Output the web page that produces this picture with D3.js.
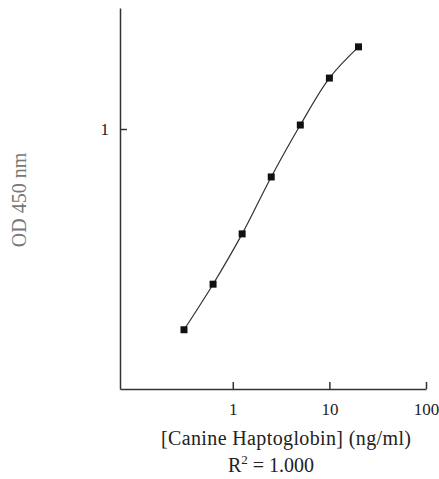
<!DOCTYPE html>
<html>
<head>
<meta charset="utf-8">
<script src="https://cdn.jsdelivr.net/npm/d3@7"></script>
<style>
  body { margin: 0; background: #fff; }
  svg text { font-family: "Liberation Serif", "DejaVu Serif", serif; fill: #222; }
</style>
</head>
<body>
<div id="chart"></div>
<script>
// standard curve points
var conc = [0.3125, 0.625, 1.25, 2.5, 5, 10, 20];
var od = [0.169, 0.253, 0.395, 0.654, 1.036, 1.57, 2.07];
var xTicks = [1, 10, 100];
var yTicks = [1];

var width = 439, height = 479;
var svg = d3.select("#chart").append("svg").attr("width", width).attr("height", height);

var x = d3.scaleLog().domain([0.068, 100]).range([120, 426]);
var y = d3.scaleLog().domain([0.1, 2.92]).range([389, 8]);

// axes, ticks point inward
var xAxis = d3.axisBottom(x).tickValues(xTicks).tickFormat(d3.format("d")).tickSizeInner(-7).tickSizeOuter(0).tickPadding(14);
var gx = svg.append("g").attr("transform", "translate(0,389)").call(xAxis);
gx.selectAll("text").style("font-size", "17px");

var yAxis = d3.axisLeft(y).tickValues(yTicks).tickFormat(d3.format("d")).tickSizeInner(-7).tickSizeOuter(0).tickPadding(11);
var gy = svg.append("g").attr("transform", "translate(120,0)").call(yAxis);
gy.selectAll("text").style("font-size", "17px");

svg.selectAll(".domain, .tick line").attr("stroke", "#333").attr("stroke-width", 1.5);

// fitted curve
var line = d3.line()
  .x(function(d, i) { return x(conc[i]); })
  .y(function(d, i) { return y(od[i]); })
  .curve(d3.curveCatmullRom.alpha(0.5));

svg.append("path").datum(od).attr("d", line)
  .attr("fill", "none").attr("stroke", "#333").attr("stroke-width", 1.2);

svg.selectAll(".pt").data(od).enter().append("rect")
  .attr("class", "pt")
  .attr("x", function(d, i) { return x(conc[i]) - 3.5; })
  .attr("y", function(d) { return y(d) - 3.5; })
  .attr("width", 7).attr("height", 7)
  .attr("fill", "#111");

// labels
svg.append("text").attr("x", 286).attr("y", 445).attr("text-anchor", "middle")
  .style("font-size", "20px").attr("textLength", 250).text("[Canine Haptoglobin] (ng/ml)");

var r2 = svg.append("text").attr("x", 271).attr("y", 472).attr("text-anchor", "middle").style("font-size", "20px");
r2.append("tspan").text("R");
r2.append("tspan").attr("dy", -8).style("font-size", "13px").text("2");
r2.append("tspan").attr("dy", 8).text(" = 1.000");

svg.append("text").attr("transform", "translate(26,200) rotate(-90)").attr("text-anchor", "middle")
  .style("font-size", "20px").style("fill", "#777").text("OD 450 nm");
</script>
</body>
</html>
